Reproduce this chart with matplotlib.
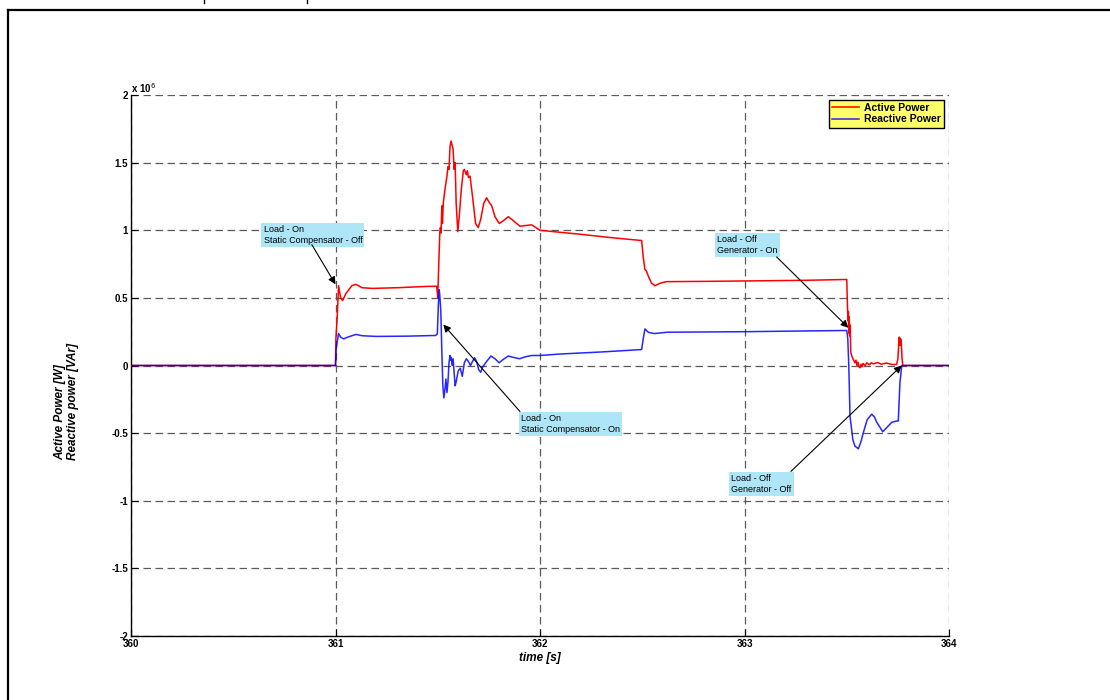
import matplotlib
matplotlib.use("Agg")
import matplotlib.pyplot as plt
from matplotlib.lines import Line2D

plt.rcParams['font.family'] = ['Liberation Sans', 'DejaVu Sans']

# Active power trace (time in s, power in units of 1e6 W)
t_active = [360.0, 361.0, 361.002, 361.008, 361.015, 361.025, 361.035, 361.05, 361.08,
            361.1, 361.13, 361.18, 361.3, 361.45, 361.495,
            361.5, 361.505, 361.51, 361.513, 361.516, 361.52, 361.523, 361.527, 361.535,
            361.545, 361.55, 361.555, 361.56, 361.565, 361.57, 361.575, 361.58, 361.585,
            361.59, 361.598, 361.605, 361.615, 361.625, 361.63, 361.64, 361.645, 361.65,
            361.658, 361.67, 361.685, 361.698, 361.71, 361.725, 361.739, 361.75, 361.764,
            361.78, 361.801, 361.82, 361.845, 361.87, 361.902, 361.93, 361.959, 361.98,
            362.0, 362.064, 362.2, 362.35, 362.497, 362.505, 362.513, 362.52, 362.53,
            362.545, 362.562, 362.59, 362.62, 362.8, 363.0, 363.3, 363.5,
            363.504, 363.506, 363.508, 363.51, 363.512, 363.514, 363.516, 363.52, 363.525,
            363.532, 363.54, 363.545, 363.55, 363.555, 363.56, 363.565, 363.57, 363.575,
            363.58, 363.59, 363.598, 363.61, 363.62, 363.63, 363.65, 363.67, 363.695,
            363.72, 363.744, 363.75, 363.755, 363.757, 363.76, 363.762, 363.766, 363.77,
            363.774, 364.0]
p_active = [0.0, 0.0, 0.2, 0.35, 0.59, 0.5, 0.48, 0.53, 0.59,
            0.6, 0.575, 0.57, 0.575, 0.585, 0.586,
            0.5, 0.75, 0.98, 1.02, 0.98, 1.18, 1.05, 1.2, 1.30,
            1.40, 1.47, 1.45, 1.62, 1.66, 1.63, 1.60, 1.45, 1.50,
            1.2, 0.99, 1.1, 1.3, 1.44, 1.45, 1.41, 1.44, 1.39,
            1.40, 1.25, 1.05, 1.02, 1.08, 1.2, 1.24, 1.21, 1.18,
            1.10, 1.05, 1.07, 1.10, 1.07, 1.03, 1.035, 1.04, 1.02,
            1.0, 0.99, 0.97, 0.945, 0.924, 0.80, 0.71, 0.70, 0.66,
            0.61, 0.59, 0.61, 0.62, 0.622, 0.625, 0.63, 0.636,
            0.41, 0.33, 0.40, 0.24, 0.36, 0.22, 0.30, 0.094, 0.07,
            0.044, 0.02, 0.04, 0.0, 0.025, -0.01, -0.017, 0.01, -0.01,
            0.015, 0.0, 0.02, 0.005, 0.02, 0.012, 0.022, 0.01, 0.018,
            0.008, 0.007, 0.05, 0.18, 0.21, 0.15, 0.2, 0.19, 0.06,
            0.0, 0.0]

# Reactive power trace (time in s, power in units of 1e6 VAr)
t_reactive = [360.0, 361.0, 361.003, 361.008, 361.015, 361.025, 361.04, 361.06, 361.1,
              361.13, 361.2, 361.35, 361.49, 361.498, 361.503, 361.507, 361.51, 361.515,
              361.52, 361.525, 361.53, 361.535, 361.54, 361.545, 361.55, 361.555, 361.56,
              361.563, 361.566, 361.57, 361.575, 361.58, 361.585, 361.59, 361.6, 361.61,
              361.62, 361.63, 361.64, 361.65, 361.66, 361.67, 361.68, 361.69, 361.7,
              361.71, 361.72, 361.739, 361.76, 361.78, 361.8, 361.82, 361.845, 361.87,
              361.9, 361.93, 361.96, 362.0, 362.1, 362.3, 362.497, 362.505, 362.513,
              362.53, 362.56, 362.62, 363.0, 363.5, 363.505, 363.51, 363.516, 363.53,
              363.54, 363.557, 363.57, 363.581, 363.6, 363.622, 363.635, 363.647, 363.676,
              363.695, 363.72, 363.745, 363.752, 363.76, 363.769, 364.0]
q_reactive = [0.0, 0.0, 0.12, 0.17, 0.236, 0.21, 0.197, 0.21, 0.23,
              0.22, 0.215, 0.217, 0.222, 0.234, 0.45, 0.56, 0.52, 0.40,
              0.1, -0.15, -0.24, -0.18, -0.1, -0.2, -0.12, 0.02, 0.074,
              0.04, 0.06, 0.0, 0.05, -0.05, -0.15, -0.12, -0.04, -0.02,
              -0.08, 0.02, 0.05, 0.03, 0.0, 0.03, 0.057, 0.03, -0.03,
              -0.05, -0.01, 0.03, 0.07, 0.05, 0.02, 0.045, 0.07, 0.06,
              0.05, 0.065, 0.074, 0.074, 0.085, 0.1, 0.118, 0.2, 0.27,
              0.245, 0.236, 0.246, 0.25, 0.259, 0.2, 0.0, -0.375, -0.55,
              -0.596, -0.616, -0.56, -0.497, -0.40, -0.36, -0.38, -0.42, -0.49,
              -0.46, -0.42, -0.41, -0.41, -0.128, 0.0, 0.0]

x_ticks = [360, 361, 362, 363, 364]
y_ticks = [-2, -1.5, -1, -0.5, 0, 0.5, 1, 1.5, 2]
y_tick_labels = ['-2', '-1.5', '-1', '-0.5', '0', '0.5', '1', '1.5', '2']

# Event notes: text, box anchor (t, value), arrow start, arrow tip
notes = [
    ("Load - On\nStatic Compensator - Off", (360.648, 0.965), (360.884, 0.894), (361.0, 0.60)),
    ("Load - On\nStatic Compensator - On", (361.908, -0.432), (361.902, -0.34), (361.527, 0.303)),
    ("Load - Off\nGenerator - On", (362.867, 0.892), (363.157, 0.803), (363.508, 0.279)),
    ("Load - Off\nGenerator - Off", (362.935, -0.874), (363.227, -0.783), (363.769, 0.0)),
]

fig = plt.figure(figsize=(11.1, 7.0), dpi=100)
fig.patch.set_facecolor('white')
ax = fig.add_axes([131 / 1110, 1 - 636 / 700, 818 / 1110, 541 / 700])

ax.plot(t_active, p_active, color='#ff0000', lw=1.1, label='Active Power', zorder=3)
ax.plot(t_reactive, q_reactive, color='#0000ff', lw=1.1, alpha=0.85,
        label='Reactive Power', zorder=4)

ax.set_xlim(360, 364)
ax.set_ylim(-2, 2)
ax.set_xticks(x_ticks)
ax.set_xticklabels([str(v) for v in x_ticks])
ax.set_yticks(y_ticks)
ax.set_yticklabels(y_tick_labels)
ax.tick_params(direction='in', length=5, width=0.8, labelsize=7, pad=2)
for lab in ax.get_xticklabels() + ax.get_yticklabels():
    lab.set_fontweight('bold')

ax.grid(True, color='#5a5a5a', linestyle=(0, (6, 3.6)), linewidth=0.9)
ax.spines['top'].set_visible(False)
ax.spines['right'].set_visible(False)
ax.spines['left'].set_linewidth(1.0)
ax.spines['bottom'].set_linewidth(1.0)

ax.set_xlabel('time [s]', fontsize=8.5, fontweight='bold', fontstyle='italic', labelpad=2)
ax.set_ylabel('Active Power [W]\nReactive power [VAr]', fontsize=8.5, fontweight='bold',
              fontstyle='italic', multialignment='left', linespacing=1.0)
ax.yaxis.set_label_coords(-0.064, 0.434)

ax.text(0.0, 1.0, r'x 10$^{6}$', transform=ax.transAxes, fontsize=7,
        fontweight='bold', ha='left', va='bottom')

for text, pos, start, tip in notes:
    ax.text(pos[0], pos[1], text, fontsize=6.5, ha='left', va='center', zorder=6,
            linespacing=1.25,
            bbox=dict(facecolor='#aee6f8', edgecolor='none', pad=1.5))
    ax.annotate('', xy=tip, xytext=start, zorder=7,
                arrowprops=dict(arrowstyle='-|>', color='black', lw=0.8,
                                mutation_scale=11, shrinkA=0, shrinkB=0))

leg = ax.legend(loc='upper right', bbox_to_anchor=(1.0, 1.0), borderaxespad=0.45,
                fancybox=False, framealpha=1, facecolor='#ffff66', edgecolor='black',
                handlelength=2.6, handletextpad=0.5, borderpad=0.3, labelspacing=0.15,
                prop={'size': 7.5, 'weight': 'bold'})
leg.get_frame().set_linewidth(1.0)

# Outer page frame
fig.add_artist(Line2D([8 / 1110, 8 / 1110], [0, 1 - 10 / 700], transform=fig.transFigure,
                      color='black', lw=1.6))
fig.add_artist(Line2D([8 / 1110, 1.0], [1 - 10 / 700, 1 - 10 / 700],
                      transform=fig.transFigure, color='black', lw=1.6))
fig.add_artist(Line2D([204 / 1110, 204 / 1110], [1.0, 1 - 3 / 700],
                      transform=fig.transFigure, color='black', lw=1.0))
fig.add_artist(Line2D([307 / 1110, 307 / 1110], [1.0, 1 - 3 / 700],
                      transform=fig.transFigure, color='black', lw=1.0))

fig.savefig('out.png', dpi=100, facecolor='white')
